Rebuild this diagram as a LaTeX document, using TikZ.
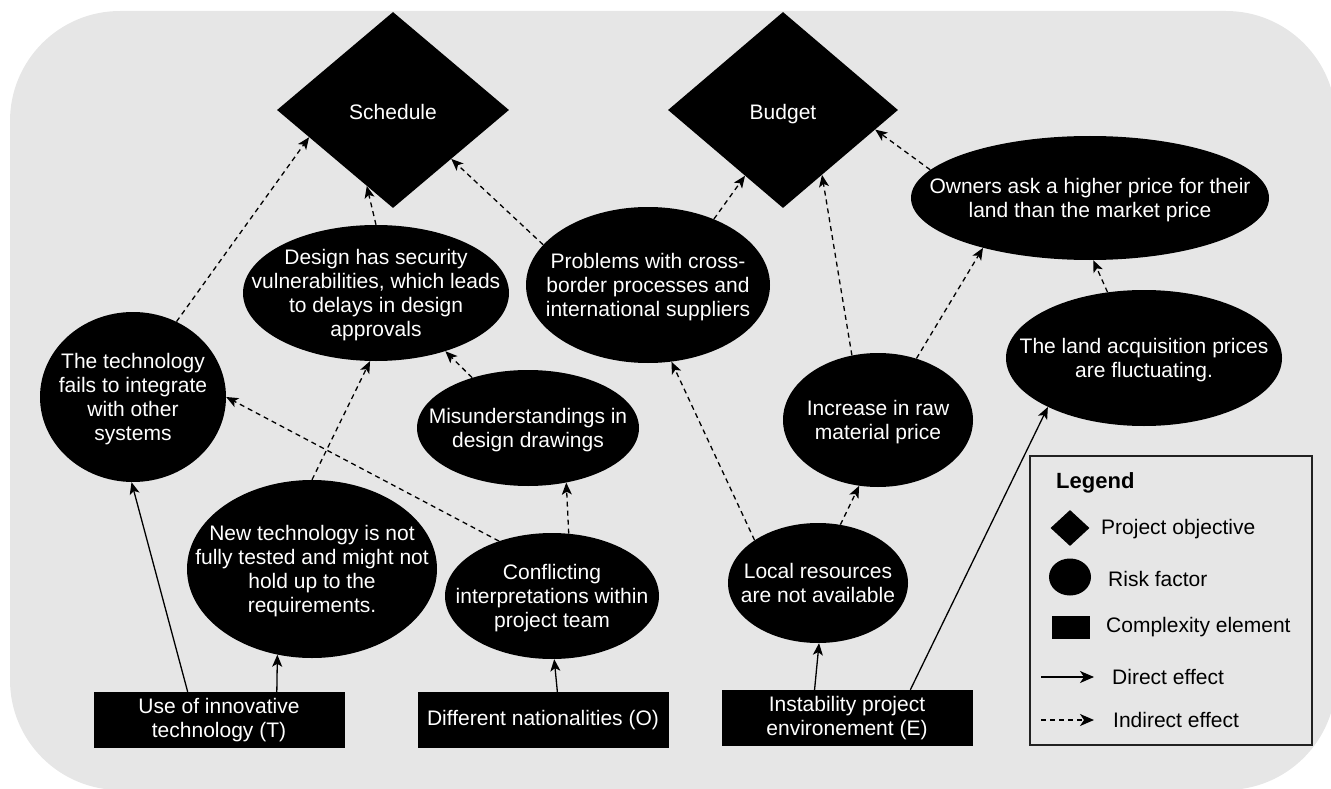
\documentclass[tikz,border=0pt]{standalone}
\usepackage{fontspec}
\setmainfont{Liberation Sans}
\usetikzlibrary{shapes.geometric,arrows.meta}
\definecolor{bgcol}{HTML}{E6E6E6}
\definecolor{framecol}{HTML}{222222}
\newcommand\risktext[1]{\smash{\makebox[0pt]{\raisebox{-8pt}{\begin{tabular}{@{}c@{}}#1\end{tabular}}}}}
\begin{document}
\begin{tikzpicture}[x=1pt,y=-1pt,
  every node/.style={font=\fontsize{21}{24}\selectfont},
  risk/.style={ellipse, fill=black, text=white, inner sep=0pt},
  objective/.style={diamond, fill=black, text=white, inner sep=0pt},
  cplx/.style={rectangle, fill=black, text=white, inner sep=0pt, align=center,
    minimum width=251pt, minimum height=56pt},
  direct/.style={line width=1.3pt, -{Stealth[length=12pt,width=10pt,inset=3pt]}},
  indirect/.style={direct, dash pattern=on 5pt off 4pt},
  legdirect/.style={line width=1.5pt, -{Stealth[length=14pt,width=12pt,inset=4pt]}},
  legindirect/.style={legdirect, dash pattern=on 5pt off 4pt},
  legtext/.style={anchor=west, inner sep=0pt, text=black}]
\useasboundingbox (0,0) rectangle (1331,789);
\clip (0,0) rectangle (1331,789);
\fill[bgcol, rounded corners=110pt] (10,11) rectangle (1336,790);

% objectives
\node[objective, minimum width=232pt, minimum height=196pt] (S) at (393,110) {\risktext{\raisebox{-2pt}{Schedule}}};
\node[objective, minimum width=230pt, minimum height=196pt] (B) at (783,110) {\risktext{\raisebox{-2pt}{Budget}}};

% risk factors
\node[risk, minimum width=266pt, minimum height=136pt] (D) at (376,293)
  {\risktext{Design has security\\vulnerabilities, which leads\\to delays in design\\approvals}};
\node[risk, minimum width=244pt, minimum height=156pt] (P) at (648,285)
  {\risktext{Problems with cross-\\border processes and\\international suppliers}};
\node[risk, minimum width=186pt, minimum height=170pt] (T) at (133,397)
  {\risktext{The technology\\fails to integrate\\with other\\systems}};
\node[risk, minimum width=222pt, minimum height=116pt] (M) at (528,428)
  {\risktext{Misunderstandings in\\design drawings}};
\node[risk, minimum width=250pt, minimum height=178pt] (N) at (312,569)
  {\risktext{New technology is not\\fully tested and might not\\hold up to the\\requirements.}};
\node[risk, minimum width=214pt, minimum height=126pt] (C) at (552,596)
  {\risktext{Conflicting\\interpretations within\\project team}};
\node[risk, minimum width=358pt, minimum height=124pt] (O) at (1090,198)
  {\risktext{Owners ask a higher price for their\\land than the market price}};
\node[risk, minimum width=276pt, minimum height=136pt] (L) at (1144,358)
  {\risktext{The land acquisition prices\\are fluctuating.}};
\node[risk, minimum width=190pt, minimum height=134pt] (I) at (878,420)
  {\risktext{Increase in raw\\material price}};
\node[risk, minimum width=180pt, minimum height=120pt] (R) at (818,583)
  {\risktext{Local resources\\are not available}};

% complexity elements
\node[cplx] (U) at (219,720) {Use of innovative\\technology (T)};
\node[cplx] (DN) at (543,720) {Different nationalities (O)};
\node[cplx] (E) at (847,718) {Instability project\\environement (E)};

% connectors
\draw[indirect] (T.60) -- (S.198);
\draw[indirect] (D.90) -- (S.251);
\draw[indirect] (P.159) -- (S.320);
\draw[indirect] (P.45) -- (B.240);
\draw[indirect] (I.112) -- (B.301);
\draw[indirect] (O.170) -- (B.348);
\draw[indirect] (I.58) -- (O.205);
\draw[indirect] (L.119) -- (O.273);
\draw[indirect] (R.146) -- (P.287);
\draw[indirect] (R.69) -- (I.254);
\draw[direct] (E.139) -- (R.271);
\draw[direct] (E.24) -- (L.207);
\draw[direct] (U.138) -- (T.269);
\draw[direct] (U.26) -- (N.248);
\draw[direct] (DN.63) -- (C.272);
\draw[indirect] (C.75) -- (M.305);
\draw[indirect] (C.134) -- (T.0);
\draw[indirect] (M.138) -- (D.320);
\draw[indirect] (N.90) -- (D.265);

% legend
\node[draw=framecol, line width=1.5pt, minimum width=282pt, minimum height=289pt, inner sep=0pt] (legend) at (1171,600.5) {};
\node[legtext, font=\bfseries\fontsize{22}{24}\selectfont] (legtitle) at (1056,483) {Legend};
\node[diamond, fill=black, minimum width=39pt, minimum height=36pt, inner sep=0pt] (lgobj) at (1070,528) {};
\node[legtext] (lgobjt) at (1101,529) {Project objective};
\node[ellipse, fill=black, minimum width=42pt, minimum height=37pt, inner sep=0pt] (lgrisk) at (1070,577) {};
\node[legtext] (lgriskt) at (1108,579) {Risk factor};
\node[rectangle, fill=black, minimum width=38pt, minimum height=23pt, inner sep=0pt] (lgcplx) at (1071,627) {};
\node[legtext] (lgcplxt) at (1106,627) {Complexity element};
\coordinate (ld1) at (1041,677);
\coordinate (ld2) at (1094,677);
\draw[legdirect] (ld1) -- (ld2);
\node[legtext] (lgdt) at (1112,677) {Direct effect};
\coordinate (li1) at (1041,720);
\coordinate (li2) at (1094,720);
\draw[legindirect] (li1) -- (li2);
\node[legtext] (lgit) at (1113,720) {Indirect effect};
\end{tikzpicture}
\end{document}
